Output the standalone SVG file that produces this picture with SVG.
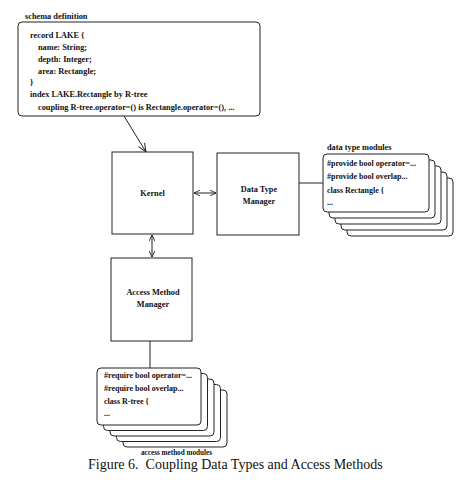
<svg xmlns="http://www.w3.org/2000/svg" width="464" height="480" viewBox="0 0 464 480">
<defs>
<style>
.t{font-family:"Liberation Serif","Times New Roman",serif;font-weight:bold;font-size:8.3px;fill:#111}
.m{font-size:8px}
.s{font-size:7.2px}
.c{text-anchor:middle}
.box{fill:#fff;stroke:#222;stroke-width:1}
.card{fill:#fff;stroke:#222;stroke-width:1}
.ln{fill:none;stroke:#222;stroke-width:1}
.cap{font-family:"Liberation Serif","Times New Roman",serif;font-size:14px;fill:#111}
</style>
<marker id="ah" viewBox="0 0 10 10" refX="9.5" refY="5" markerWidth="10" markerHeight="10" markerUnits="userSpaceOnUse" orient="auto-start-reverse">
<path d="M1,1.5 L9.5,5 L1,8.5" fill="none" stroke="#222" stroke-width="1"/>
</marker>
<marker id="ah2" viewBox="0 0 10 10" refX="9.5" refY="5" markerWidth="7" markerHeight="7" markerUnits="userSpaceOnUse" orient="auto-start-reverse">
<path d="M1,1 L9.5,5 L1,9" fill="none" stroke="#222" stroke-width="1.3"/>
</marker>
</defs>
<rect width="464" height="480" fill="#fff"/>

<g id="schema">
<text class="t" x="25" y="19">schema definition</text>
<rect class="box" x="18" y="22" width="242" height="94" rx="4"/>
<text class="t" x="30" y="38">record LAKE {</text>
<text class="t" x="38" y="50">name: String;</text>
<text class="t" x="38" y="62">depth: Integer;</text>
<text class="t" x="38" y="74">area: Rectangle;</text>
<text class="t" x="30" y="85">}</text>
<text class="t" x="30" y="97">index LAKE.Rectangle by R-tree</text>
<text class="t" x="38" y="110">coupling R-tree.operator=() is Rectangle.operator=(), ...</text>
</g>

<g id="kernel">
<rect class="box" x="112" y="152" width="81" height="82"/>
<text class="t c" x="152.5" y="196">Kernel</text>
</g>

<g id="dtm">
<rect class="box" x="217" y="153" width="82" height="82"/>
<text class="t c" x="259" y="192">Data Type</text>
<text class="t c" x="259" y="204">Manager</text>
</g>

<g id="amm">
<rect class="box" x="111" y="258" width="81" height="83"/>
<text class="t c" x="153" y="295">Access Method</text>
<text class="t c" x="153" y="307">Manager</text>
</g>

<g id="dt-modules">
<text class="t" x="327" y="150">data type modules</text>
<rect class="card" x="347" y="178" width="106" height="58" rx="4"/>
<rect class="card" x="341" y="172" width="106" height="58" rx="4"/>
<rect class="card" x="335" y="166" width="106" height="58" rx="4"/>
<rect class="card" x="329" y="160" width="106" height="58" rx="4"/>
<rect class="card" x="323" y="154" width="106" height="58" rx="4"/>
<text class="t m" x="327" y="166">#provide bool operator=...</text>
<text class="t m" x="327" y="179">#provide bool overlap...</text>
<text class="t m" x="327" y="193">class Rectangle {</text>
<text class="t m" x="327" y="205">...</text>
</g>

<g id="am-modules">
<rect class="card" x="123" y="390" width="104" height="57" rx="4"/>
<rect class="card" x="116.5" y="384.5" width="104" height="57" rx="4"/>
<rect class="card" x="110" y="379" width="104" height="57" rx="4"/>
<rect class="card" x="103.5" y="373.5" width="104" height="57" rx="4"/>
<rect class="card" x="97" y="368" width="104" height="57" rx="4"/>
<text class="t m" x="104" y="378">#require bool operator=...</text>
<text class="t m" x="104" y="391">#require bool overlap...</text>
<text class="t m" x="104" y="404">class R-tree {</text>
<text class="t m" x="104" y="416">...</text>
<text class="t s" x="141" y="455">access method modules</text>
</g>

<g id="connectors">
<line class="ln" x1="124" y1="116" x2="146" y2="152" marker-end="url(#ah)"/>
<line class="ln" x1="194" y1="193" x2="216" y2="193" marker-start="url(#ah2)" marker-end="url(#ah2)"/>
<line class="ln" x1="152" y1="235" x2="152" y2="257" marker-start="url(#ah2)" marker-end="url(#ah2)"/>
<line class="ln" x1="299" y1="183" x2="323" y2="183"/>
<line class="ln" x1="150" y1="341" x2="150" y2="368"/>
</g>

<text class="cap" x="88" y="469" xml:space="preserve">Figure 6.  Coupling Data Types and Access Methods</text>
</svg>
